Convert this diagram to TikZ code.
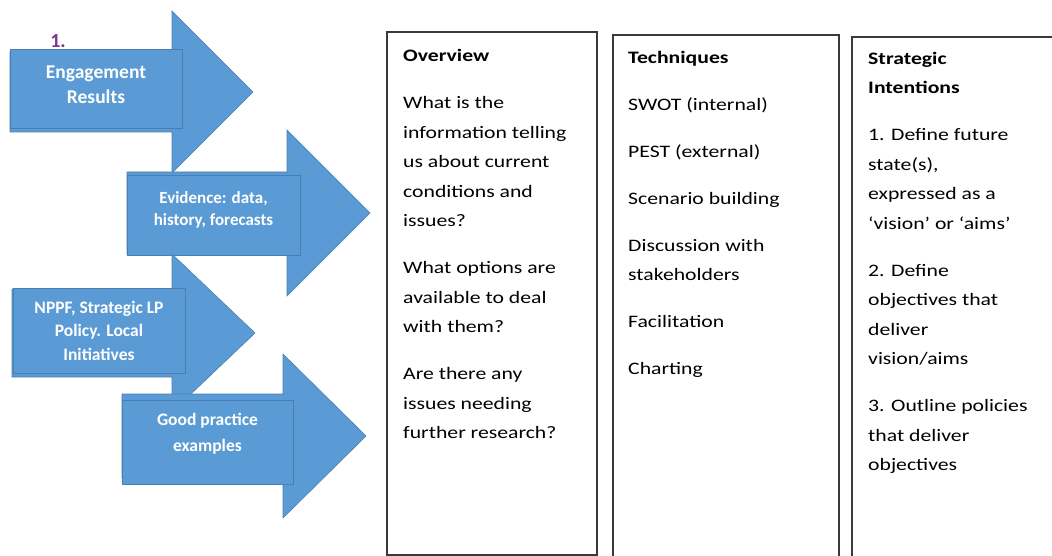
\documentclass[tikz,border=0pt]{standalone}
\usepackage{fontspec}
\setmainfont{Carlito}
\newfontfamily\colfont[FakeStretch=1.24]{Carlito}
\usetikzlibrary{positioning}
\definecolor{arrowblue}{HTML}{5B9BD5}
\definecolor{arrowedge}{HTML}{4A7EB0}
\definecolor{numpurple}{HTML}{7E3690}
\definecolor{coledge}{HTML}{3A3A3A}
\newcommand{\parshim}{\\[17.5pt]}
% #1 shaft start, #2 head start, #3 tip, #4 centre y, #5 half shaft, #6 half head
\newcommand{\bigarrow}[6]{\filldraw[blockarrow] (#1,#4-#5) -- (#2,#4-#5) -- (#2,#4-#6) -- (#3,#4)
  -- (#2,#4+#6) -- (#2,#4+#5) -- (#1,#4+#5) -- cycle;}

\tikzset{
  blockarrow/.style={fill=arrowblue, draw=arrowedge, line width=0.6pt},
  inputbox/.style={fill=arrowblue, draw=arrowedge, line width=0.8pt, inner sep=0pt},
  inputtext/.style={text=white, align=center, inner sep=0pt,
    font=\bfseries\fontsize{17.5}{23.5}\selectfont},
  colbox/.style={draw=coledge, line width=1.4pt},
  coltext/.style={anchor=north west, inner sep=0pt, align=left,
    font=\colfont\fontsize{17.5}{29.5}\selectfont},
}

\begin{document}
\begin{tikzpicture}[x=1pt,y=-1pt]
  \useasboundingbox (0,0) rectangle (1052,556);
  \clip (0,0) rectangle (1052,556);

  %% inputs on the left
  \bigarrow{10}{172}{253}{92}{40}{81}
  \node (r1) [inputbox, minimum width=172, minimum height=79] at (96,88.5) {};
  \node (t1) [inputtext, font=\bfseries\fontsize{19.5}{25}\selectfont,
             below=17pt of r1.north] {Engagement\\Results};
  \node (n1) [text=numpurple, font=\bfseries\fontsize{20}{22}\selectfont, inner sep=0pt]
    at (58,41) {1.};

  \bigarrow{127}{287}{370}{213}{41}{83}
  \node (r2) [inputbox, minimum width=173, minimum height=80] at (213.5,215) {};
  \node (t2) [inputtext, font=\bfseries\fontsize{17}{22}\selectfont,
             below=16.5pt of r2.north] {Evidence: data,\\history, forecasts};

  \bigarrow{12}{172}{255}{333}{44}{79}
  \node (r3) [inputbox, minimum width=172, minimum height=85] at (99,330.5) {};
  \node (t3) [inputtext, below=13pt of r3.north] {NPPF, Strategic LP\\Policy. Local\\Initiatives};

  \bigarrow{122}{283}{366}{436}{42}{82}
  \node (r4) [inputbox, minimum width=171, minimum height=84] at (207.5,442) {};
  \node (t4) [inputtext, font=\bfseries\fontsize{17.5}{26}\selectfont,
             below=13pt of r4.north] {Good practice\\examples};

  %% the three columns
  \draw[colbox] (387,32) rectangle (597,555);
  \draw[colbox] (613,35) rectangle (839,570);
  \draw[colbox] (852,37) rectangle (1070,570);

  \node (c1) [coltext] at (403,49.5) {\textbf{Overview}\parshim
    What is the\\information telling\\us about current\\conditions and\\issues?\parshim
    What options are\\available to deal\\with them?\parshim
    Are there any\\issues needing\\further research?};
  \node (c2) [coltext] at (628,51) {\textbf{Techniques}\parshim
    SWOT (internal)\parshim PEST (external)\parshim Scenario building\parshim
    Discussion with\\stakeholders\parshim Facilitation\parshim Charting};
  \node (c3) [coltext] at (868,52) {\textbf{Strategic}\\\textbf{Intentions}\parshim
    1. Define future\\state(s),\\expressed as a\\‘vision’ or ‘aims’\parshim
    2. Define\\objectives that\\deliver\\vision/aims\parshim
    3. Outline policies\\that deliver\\objectives};
\end{tikzpicture}
\end{document}
